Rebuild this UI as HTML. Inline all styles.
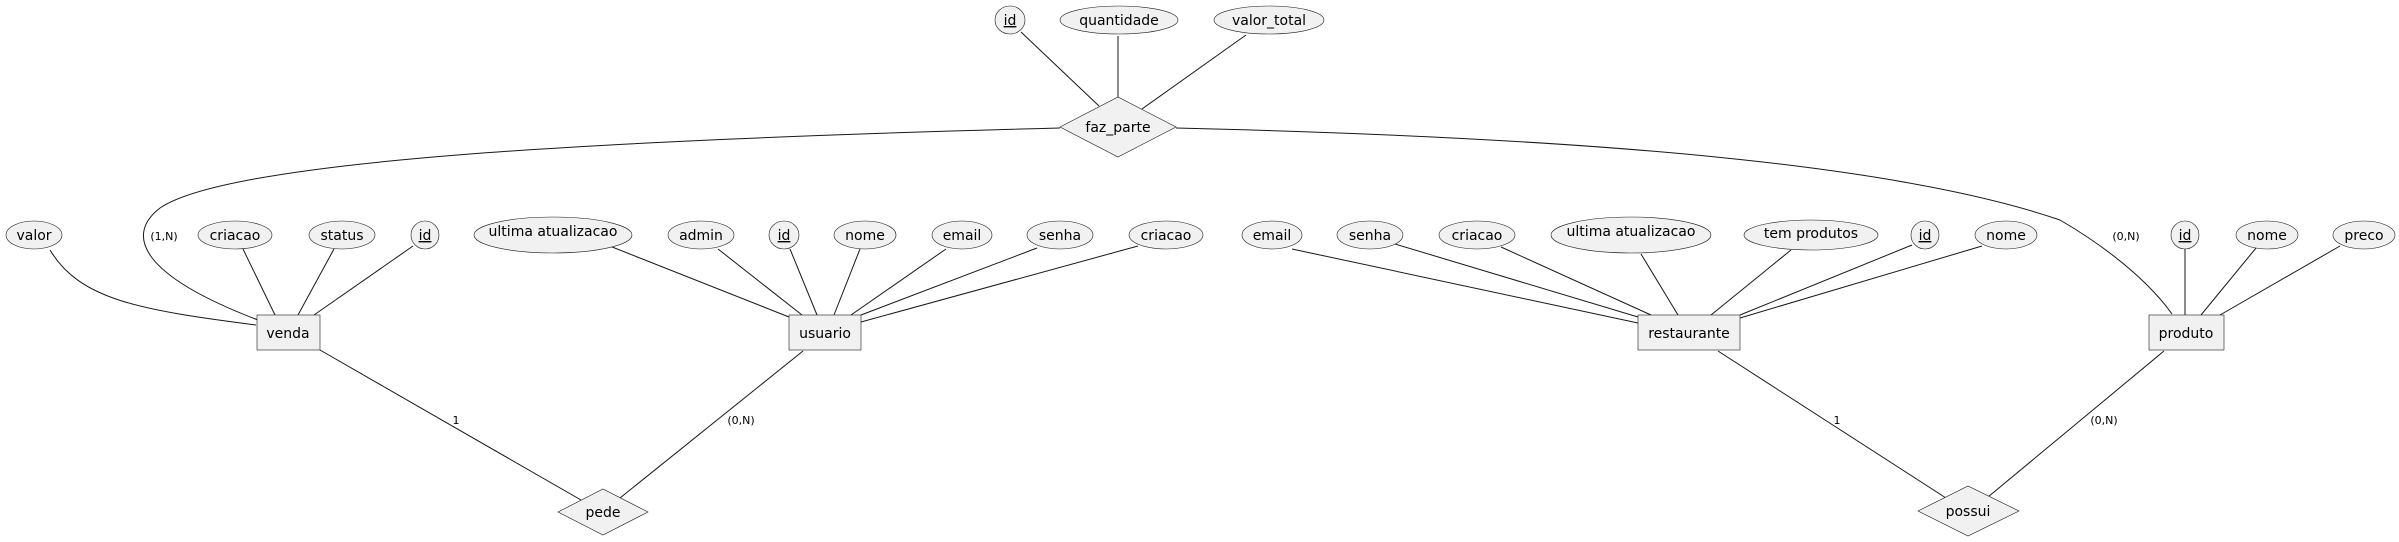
<!DOCTYPE html>
<html><head><meta charset="utf-8"><style>html,body{margin:0;padding:0;background:#fff}svg{display:block}</style></head><body>
<svg width="2399" height="542" viewBox="0 0 2399 542" xmlns="http://www.w3.org/2000/svg" font-family="DejaVu Sans, Liberation Sans, sans-serif">
<g stroke="#181818" stroke-width="1" fill="none">
<line x1="1021" y1="32" x2="1099" y2="106"/>
<line x1="1118" y1="36" x2="1118" y2="97"/>
<line x1="1246" y1="35" x2="1142" y2="109"/>
<path d="M1060,128 C600,140 230,160 160,208 C125,235 140,275 258,320"/>
<path d="M1176,128 C1600,138 1900,165 2060,220 C2120,255 2155,290 2172,314"/>
<path d="M50,250 C80,300 140,310 256,325"/>
<line x1="243" y1="249" x2="275" y2="315"/>
<line x1="334" y1="249" x2="298" y2="315"/>
<line x1="413" y1="246" x2="314" y2="315"/>
<line x1="597" y1="241" x2="789" y2="317"/>
<line x1="718" y1="249" x2="802" y2="315"/>
<line x1="790" y1="249" x2="817" y2="315"/>
<line x1="860" y1="249" x2="834" y2="315"/>
<line x1="946" y1="249" x2="851" y2="315"/>
<line x1="1037" y1="248" x2="861" y2="315"/>
<line x1="1138" y1="246" x2="861" y2="322"/>
<line x1="1292" y1="249" x2="1638" y2="323"/>
<line x1="1395" y1="244" x2="1638" y2="317"/>
<line x1="1501" y1="247" x2="1651" y2="315"/>
<line x1="1641" y1="254" x2="1678" y2="315"/>
<line x1="1791" y1="250" x2="1711" y2="315"/>
<line x1="1912" y1="245" x2="1740" y2="315"/>
<line x1="1982" y1="246" x2="1740" y2="318"/>
<line x1="2185" y1="249" x2="2185" y2="315"/>
<line x1="2256" y1="248" x2="2201" y2="315"/>
<line x1="2340" y1="246" x2="2220" y2="315"/>
<line x1="320" y1="350" x2="581" y2="500"/>
<line x1="803" y1="351" x2="620" y2="498"/>
<line x1="1718" y1="351" x2="1946" y2="498"/>
<line x1="2164" y1="351" x2="1988" y2="497"/>
</g>
<g fill="#f1f1f1" stroke="#181818" stroke-width="0.6">
<ellipse cx="1010" cy="20" rx="15" ry="14"/>
<ellipse cx="1119" cy="20" rx="59" ry="14"/>
<ellipse cx="1269" cy="20" rx="55" ry="14"/>
<ellipse cx="34" cy="235" rx="28" ry="14"/>
<ellipse cx="235" cy="235" rx="37" ry="14"/>
<ellipse cx="342" cy="235" rx="33" ry="14"/>
<ellipse cx="425" cy="235" rx="14" ry="14"/>
<ellipse cx="553" cy="235" rx="79" ry="18"/>
<ellipse cx="701" cy="235" rx="33" ry="14"/>
<ellipse cx="784" cy="235" rx="15" ry="14"/>
<ellipse cx="865" cy="235" rx="31" ry="14"/>
<ellipse cx="962" cy="235" rx="30" ry="14"/>
<ellipse cx="1060" cy="235" rx="33" ry="14"/>
<ellipse cx="1166" cy="235" rx="37" ry="14"/>
<ellipse cx="1272" cy="235" rx="30" ry="14"/>
<ellipse cx="1370" cy="235" rx="33" ry="14"/>
<ellipse cx="1477" cy="235" rx="38" ry="14"/>
<ellipse cx="1631" cy="235" rx="80" ry="18"/>
<ellipse cx="1811" cy="235" rx="67" ry="15"/>
<ellipse cx="1925" cy="235" rx="14" ry="14"/>
<ellipse cx="2006" cy="235" rx="31" ry="14"/>
<ellipse cx="2185" cy="235" rx="14" ry="14"/>
<ellipse cx="2267" cy="235" rx="31" ry="14"/>
<ellipse cx="2364" cy="235" rx="31" ry="14"/>
<rect x="257" y="315" width="63" height="35"/>
<rect x="789" y="315" width="72" height="35"/>
<rect x="1638" y="315" width="102" height="35"/>
<rect x="2149" y="315" width="75" height="35"/>
<polygon points="1060,127 1118,97 1176,127 1118,157"/>
<polygon points="558,512 603,489 648,512 603,535"/>
<polygon points="1918,511 1968,486 2019,511 1968,536"/>
</g>
<g font-size="14" fill="#000" text-anchor="middle">
<text x="1010" y="25" text-decoration="underline">id</text>
<text x="1119" y="25">quantidade</text>
<text x="1269" y="25">valor_total</text>
<text x="34" y="240">valor</text>
<text x="235" y="240">criacao</text>
<text x="342" y="240">status</text>
<text x="425" y="240" text-decoration="underline">id</text>
<text x="553" y="236">ultima atualizacao</text>
<text x="701" y="240">admin</text>
<text x="784" y="240" text-decoration="underline">id</text>
<text x="865" y="240">nome</text>
<text x="962" y="240">email</text>
<text x="1060" y="240">senha</text>
<text x="1166" y="240">criacao</text>
<text x="1272" y="240">email</text>
<text x="1370" y="240">senha</text>
<text x="1477" y="240">criacao</text>
<text x="1631" y="236">ultima atualizacao</text>
<text x="1811" y="238">tem produtos</text>
<text x="1925" y="240" text-decoration="underline">id</text>
<text x="2006" y="240">nome</text>
<text x="2185" y="240" text-decoration="underline">id</text>
<text x="2267" y="240">nome</text>
<text x="2364" y="240">preco</text>
<text x="288" y="338">venda</text>
<text x="825" y="338">usuario</text>
<text x="1689" y="338">restaurante</text>
<text x="2186" y="338">produto</text>
<text x="1118" y="132">faz_parte</text>
<text x="603" y="517">pede</text>
<text x="1968" y="516">possui</text>
</g>
<g font-size="11" fill="#000" text-anchor="middle">
<text x="164" y="240">(1,N)</text>
<text x="456" y="424">1</text>
<text x="741" y="424">(0,N)</text>
<text x="1837" y="424">1</text>
<text x="2104" y="424">(0,N)</text>
<text x="2126" y="240">(0,N)</text>
</g>
</svg>
</body></html>
